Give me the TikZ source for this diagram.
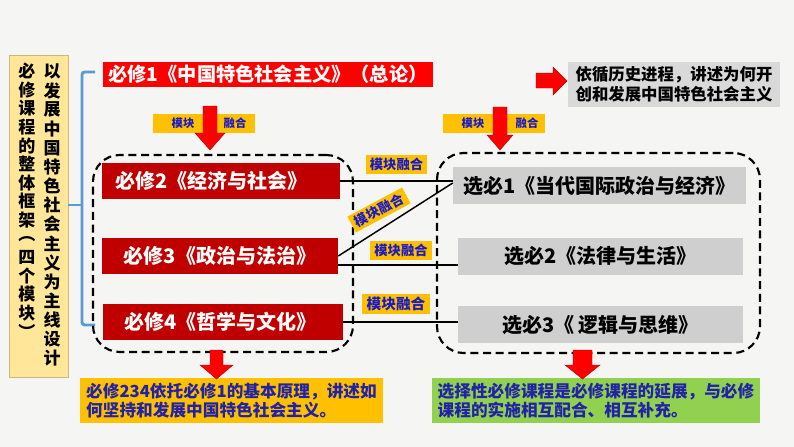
\documentclass[tikz,border=0pt]{standalone}
\usepackage{fontspec}
\setmainfont{Noto Sans CJK SC}
\usetikzlibrary{calc}
\definecolor{bg}{HTML}{F5F5F3}
\definecolor{framey}{HTML}{FFE699}
\definecolor{brblue}{HTML}{5B9BD5}
\definecolor{titlered}{HTML}{FF0000}
\definecolor{darkred}{HTML}{C00000}
\definecolor{boxgray}{HTML}{CFCFCF}
\definecolor{notegray}{HTML}{D9D9D9}
\definecolor{tagorange}{HTML}{FFC000}
\definecolor{tagblue}{HTML}{1A1AC8}
\definecolor{navy}{HTML}{2222A8}
\definecolor{green}{HTML}{92D050}
\tikzset{
  vtext/.style={inner sep=0pt, text=black, font=\bfseries\fontsize{12.75pt}{14pt}\selectfont},
  redbox/.style={fill=darkred, text=white, inner sep=0pt, font=\bfseries\fontsize{15pt}{18pt}\selectfont},
  graybox/.style={fill=boxgray, text=black, inner sep=0pt, font=\bfseries\fontsize{15pt}{18pt}\selectfont},
  tagbox/.style={fill=tagorange, inner sep=0pt},
  tagtext/.style={text=tagblue, inner sep=0pt, font=\bfseries\fontsize{8.5pt}{10pt}\selectfont},
  tag/.style={fill=tagorange, text=tagblue, inner sep=0pt, font=\bfseries\fontsize{10pt}{12pt}\selectfont},
  dashbox/.style={draw=black, line width=1.6pt, dash pattern=on 6pt off 3.5pt, rounded corners=20pt, inner sep=0pt},
  blockarrow/.style={fill=red, draw=red!70!black, line width=0.3pt},
  link/.style={line width=1.1pt, draw=black},
  bracket/.style={draw=brblue, line width=2.2pt, line join=round, rounded corners=2pt}
}
\begin{document}
\begin{tikzpicture}[x=0.75pt,y=-0.75pt]
\fill[bg] (0,0) rectangle (794,447);
\useasboundingbox (0,0) rectangle (794,447);

% left frame with vertical text
\node[fill=framey, draw=framey!80!black, line width=0.2pt, minimum width=59*0.75pt, minimum height=322*0.75pt, inner sep=0pt] (frame) at (38.5,216) {};
\foreach \c [count=\i] in {以,发,展,中,国,特,色,社,会,主,义,为,主,线,设,计}
  \node[vtext] (vr\i) at (52,{52.5+19.1*\i}) {\c};
\foreach \c [count=\i] in {必,修,课,程,的,整,体,框,架,︵,四,个,模,块,︶}
  \node[vtext] (vl\i) at (27,{52.7+18.6*\i}) {\c};

% bracket
\coordinate (brt) at (95,72);
\coordinate (brb) at (95,325);
\coordinate (brm) at (82,205);
\draw[bracket] (brt) -- (82,72) -- (82,325) -- (brb);
\draw[bracket] (brm) -- (brm -| frame.east);

% title
\node[fill=titlered, text=white, inner sep=0pt, minimum width=330*0.75pt, minimum height=25*0.75pt, font=\bfseries\fontsize{14.4pt}{17pt}\selectfont] (m1) at (268,74.5) {必修1《中国特色社会主义》（总论）};

% note top right
\node[fill=notegray, inner sep=0pt, minimum width=212*0.75pt, minimum height=45*0.75pt, align=left, text=black, font=\bfseries\fontsize{12.3pt}{15pt}\selectfont] (note) at (674,84.5) {依循历史进程，讲述为何开\\创和发展中国特色社会主义};
\draw[blockarrow] (536,73) -- (553,73) -- (553,67) -- (567,81) -- (553,95) -- (553,88) -- (536,88) -- cycle;

% top tags
\node[tagbox, minimum width=102*0.75pt, minimum height=19*0.75pt] (ta) at (204,123.5) {};
\node[tagtext] (ta1) at (183,123.5) {模块};
\node[tagtext] (ta2) at (235,123.5) {融合};
\node[tagbox, minimum width=102*0.75pt, minimum height=19*0.75pt] (tb) at (494,123.5) {};
\node[tagtext] (tb1) at (473,123.5) {模块};
\node[tagtext] (tb2) at (527,123.5) {融合};

% down arrows
\draw[blockarrow] (203,106) -- (217,106) -- (217,133) -- (225,133) -- (210,150) -- (195,133) -- (203,133) -- cycle;
\draw[blockarrow] (493,107) -- (507,107) -- (507,135) -- (513,135) -- (500,150) -- (487,135) -- (493,135) -- cycle;

% red boxes
\node[redbox, minimum width=238*0.75pt, minimum height=36*0.75pt] (b2) at (221,181) {\hspace*{-14pt}必修2《经济与社会》};
\node[redbox, minimum width=236*0.75pt, minimum height=36*0.75pt] (b3) at (220,256) {必修3《政治与法治》};
\node[redbox, minimum width=240*0.75pt, minimum height=36*0.75pt] (b4) at (223,322) {\hspace*{-4pt}必修4《哲学与文化》};

% gray boxes
\node[graybox, minimum width=293*0.75pt, minimum height=37*0.75pt] (g1) at (599.5,185.5) {选必1《当代国际政治与经济》};
\node[graybox, minimum width=285*0.75pt, minimum height=37*0.75pt] (g2) at (600.5,256.5) {选必2《法律与生活》};
\node[graybox, minimum width=285*0.75pt, minimum height=37*0.75pt] (g3) at (600.5,324.5) {选必3《 逻辑与思维》};

% connectors
\coordinate (g1in) at ($(g1.west)+(0,-2.5)$);
\coordinate (b3s) at ($(b3.east)+(0,9)$);
\draw[link] (b2.east) -- (b2.east -| g1.west);
\draw[link] (b3.east) -- (g1in);
\draw[link] (b3s) -- (b3s -| g2.west);
\draw[link] (b4.east) -- (b4.east -| g3.west);

% dashed group boxes
\node[dashbox, minimum width=260*0.75pt, minimum height=197*0.75pt] (L) at (223,253.5) {};
\node[dashbox, minimum width=323*0.75pt, minimum height=200*0.75pt] (R) at (598.5,253) {};

% connector tags
\node[tag, minimum width=61*0.75pt, minimum height=19*0.75pt] (tA) at (396.5,164.5) {模块融合};
\node[tag, minimum width=62*0.75pt, minimum height=18*0.75pt, rotate=28] (tB) at (379,210) {模块融合};
\node[tag, minimum width=62*0.75pt, minimum height=19*0.75pt] (tC) at (401,250.5) {模块融合};
\node[tag, minimum width=68*0.75pt, minimum height=20*0.75pt, font=\bfseries\fontsize{11pt}{13pt}\selectfont] (tD) at (396,304) {模块融合};

% bottom boxes
\node[fill=tagorange, text=navy, inner sep=0pt, minimum width=303*0.75pt, minimum height=45*0.75pt, align=left, font=\bfseries\fontsize{12.5pt}{14.3pt}\selectfont] (n1) at (231.5,400.5) {必修234依托必修1的基本原理，讲述如\\何坚持和发展中国特色社会主义。};
\node[fill=green, text=navy, inner sep=0pt, minimum width=328*0.75pt, minimum height=45*0.75pt, align=left, font=\bfseries\fontsize{12.5pt}{14.3pt}\selectfont] (n2) at (596,400.5) {选择性必修课程是必修课程的延展，与必修\\课程的实施相互配合、相互补充。};

% bottom arrows
\draw[blockarrow] (210,350) -- (223,350) -- (223,365) -- (233,365) -- (216.5,379) -- (200,365) -- (210,365) -- cycle;
\draw[blockarrow] (573,350) -- (592,350) -- (592,365) -- (600,365) -- (582.5,379) -- (565,365) -- (573,365) -- cycle;
\end{tikzpicture}
\end{document}
